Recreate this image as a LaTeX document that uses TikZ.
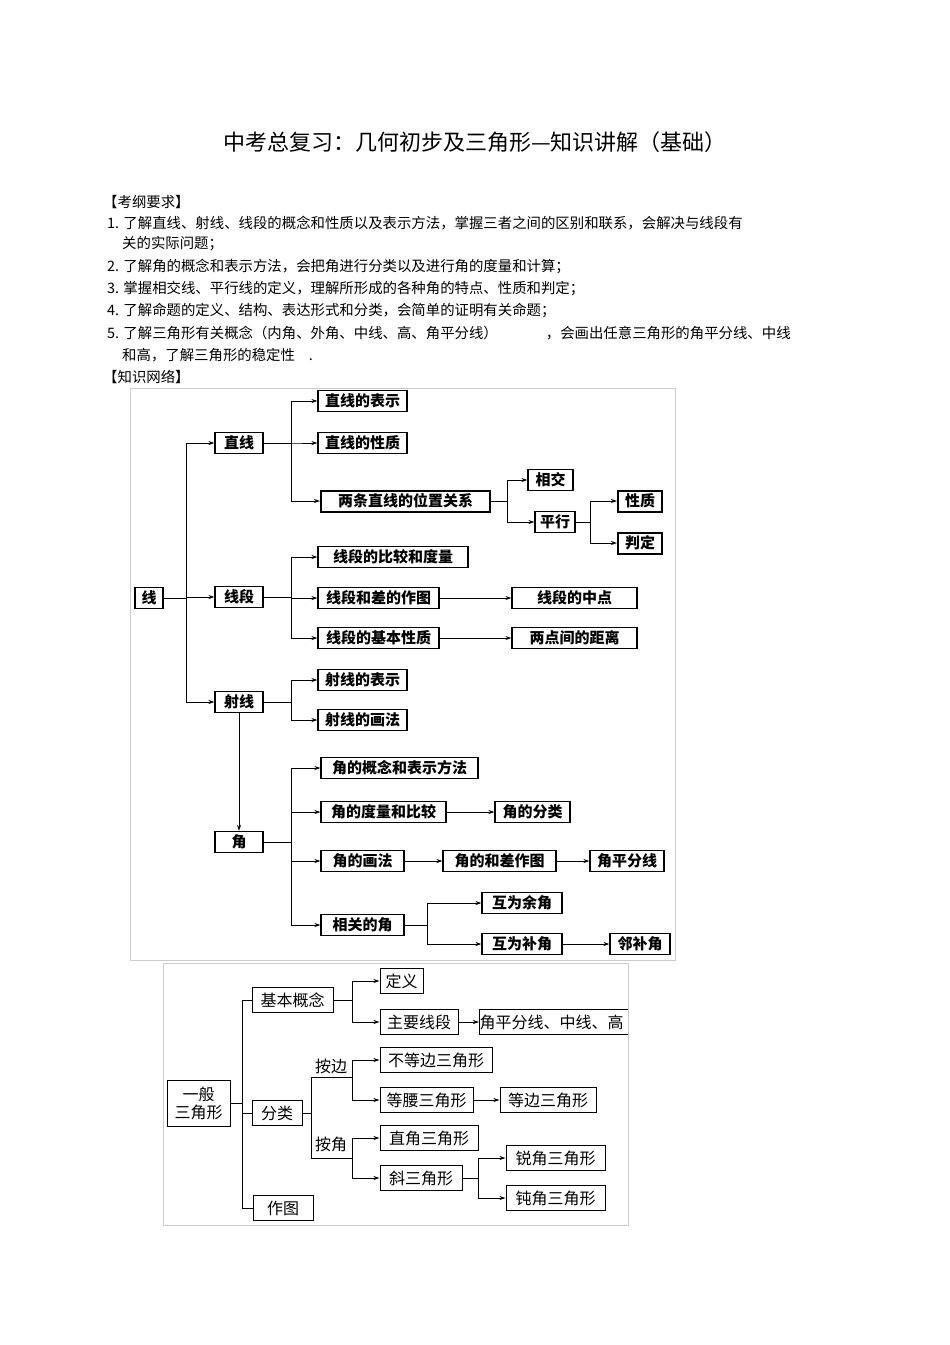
\documentclass[tikz,border=0pt]{standalone}
\usepackage{fontspec}
\setmainfont{Noto Sans CJK SC}
\usetikzlibrary{arrows.meta}
\begin{document}
\begin{tikzpicture}[x=1pt,y=-1pt,
 bx/.style={draw,line width=1.1pt,minimum height=21,inner sep=1pt,font=\fontsize{15}{16}\selectfont\bfseries},
 tb/.style={bx,line width=2pt},
 wb/.style={draw,line width=1pt,minimum height=25,inner sep=1pt,font=\fontsize{16}{18}\selectfont},
 ln/.style={line width=0.9pt},
 arr/.style={ln,-{Stealth[length=6pt,width=4pt]}},
 txt/.style={anchor=west,inner sep=0,font=\fontsize{14.4}{15}\selectfont}]
\useasboundingbox (0,0) rectangle (950,1345);
\node[font=\fontsize{22}{24}\selectfont] (title) at (475,142) {中考总复习：几何初步及三角形—知识讲解（基础）};
\node[txt] (t0) at (103,202) {【考纲要求】};
\node[txt] (t1) at (107,223) {1. 了解直线、射线、线段的概念和性质以及表示方法，掌握三者之间的区别和联系，会解决与线段有};
\node[txt] (t1b) at (122,244) {关的实际问题；};
\node[txt] (t2) at (107,266) {2. 了解角的概念和表示方法，会把角进行分类以及进行角的度量和计算；};
\node[txt] (t3) at (107,289) {3. 掌握相交线、平行线的定义，理解所形成的各种角的特点、性质和判定；};
\node[txt] (t4) at (107,311) {4. 了解命题的定义、结构、表达形式和分类，会简单的证明有关命题；};
\node[txt] (t5) at (107,333) {5. 了解三角形有关概念（内角、外角、中线、高、角平分线）\hspace{48pt}，会画出任意三角形的角平分线、中线};
\node[txt] (t5b) at (122,355) {和高，了解三角形的稳定性\hspace{14pt}.};
\node[txt] (t6) at (103,377) {【知识网络】};
% frames
\draw[gray!40,line width=1pt] (130,388) rectangle (675,960);
\draw[gray!40,line width=1pt] (163,963) rectangle (628,1225);
% diagram 1
\node[bx,minimum width=28] (xian) at (149,598) {线};
\node[bx,minimum width=48] (zx) at (239,443) {直线};
\node[bx,minimum width=48] (xd) at (239,597) {线段};
\node[bx,minimum width=48] (sx) at (239,702) {射线};
\node[bx,minimum width=48] (jiao) at (239,842) {角};
\node[bx,minimum width=89] (zx1) at (362.5,401) {直线的表示};
\node[bx,minimum width=89] (zx2) at (362.5,443) {直线的性质};
\node[tb,minimum width=169] (zx3) at (405.5,501) {两条直线的位置关系};
\node[bx,minimum width=45] (xj) at (550.5,480) {相交};
\node[bx,minimum width=40] (px) at (555,522) {平行};
\node[tb,minimum width=44] (xz) at (640,501) {性质};
\node[tb,minimum width=44] (pd) at (640,543) {判定};
\node[bx,minimum width=150] (xd1) at (393,557) {线段的比较和度量};
\node[bx,minimum width=121] (xd2) at (378.5,598) {线段和差的作图};
\node[bx,minimum width=121] (xd3) at (378.5,638) {线段的基本性质};
\node[bx,minimum width=125] (zd) at (574.5,598) {线段的中点};
\node[bx,minimum width=125] (jl) at (574.5,638) {两点间的距离};
\node[bx,minimum width=89] (sx1) at (362.5,680) {射线的表示};
\node[bx,minimum width=89] (sx2) at (362.5,720) {射线的画法};
\node[bx,minimum width=157] (j1) at (399.5,768) {角的概念和表示方法};
\node[bx,minimum width=125] (j2) at (383.5,812) {角的度量和比较};
\node[bx,minimum width=75] (jfl) at (532.5,812) {角的分类};
\node[bx,minimum width=83] (j3) at (362.5,861) {角的画法};
\node[bx,minimum width=113] (jhc) at (499.5,861) {角的和差作图};
\node[bx,minimum width=74] (jpf) at (627,861) {角平分线};
\node[bx,minimum width=83] (j4) at (362.5,925) {相关的角};
\node[bx,minimum width=80] (yj) at (522,903) {互为余角};
\node[bx,minimum width=80] (bj) at (522,944) {互为补角};
\node[bx,minimum width=60] (lbj) at (640,944) {邻补角};
\draw[ln] (xian.east) -- (186,598);
\draw[ln] (186,702) -- (186,443);
\draw[arr] (186,443) -- (zx.west);
\draw[arr] (186,597) -- (xd.west);
\draw[arr] (186,702) -- (sx.west);
\draw[arr] (sx.south) -- (jiao.north);
\foreach \t in {zx1,zx2,zx3} \draw[arr] (zx.east) -- (291,443) |- (\t.west);
\foreach \t in {xj,px} \draw[arr] (zx3.east) -- (507,501) |- (\t.west);
\foreach \t in {xz,pd} \draw[arr] (px.east) -- (590,522) |- (\t.west);
\foreach \t in {xd1,xd2,xd3} \draw[arr] (xd.east) -- (291,597) |- (\t.west);
\draw[arr] (xd2) -- (zd);
\draw[arr] (xd3) -- (jl);
\foreach \t in {sx1,sx2} \draw[arr] (sx.east) -- (291,702) |- (\t.west);
\foreach \t in {j1,j2,j3,j4} \draw[arr] (jiao.east) -- (291,842) |- (\t.west);
\draw[arr] (j2) -- (jfl);
\draw[arr] (j3) -- (jhc);
\draw[arr] (jhc) -- (jpf);
\foreach \t in {yj,bj} \draw[arr] (j4.east) -- (427,925) |- (\t.west);
\draw[arr] (bj) -- (lbj);
% diagram 2
\node[wb,minimum width=63,minimum height=46,align=center] (yb) at (198.5,1103) {一般\\三角形};
\node[wb,minimum width=81] (jb) at (292.5,1000) {基本概念};
\node[wb,minimum width=50] (fl) at (277,1113) {分类};
\node[wb,minimum width=60] (zt) at (283,1208) {作图};
\node[wb,minimum width=43] (dy) at (401.5,981) {定义};
\node[wb,minimum width=78] (zyxd) at (419,1022) {主要线段};
\begin{scope}
\clip (163,963) rectangle (628,1225);
\node[wb,anchor=west,inner xsep=0pt,minimum width=160,text width=160] (jpx) at (479,1022) {角平分线、中线、高};
\end{scope}
\node[wb,minimum width=112] (bdb) at (436,1060) {不等边三角形};
\node[wb,minimum width=93] (dy3) at (426.5,1100) {等腰三角形};
\node[wb,minimum width=96] (db3) at (548,1100) {等边三角形};
\node[wb,minimum width=98] (zj3) at (429,1138) {直角三角形};
\node[wb,minimum width=82] (x3) at (421,1178) {斜三角形};
\node[wb,minimum width=99] (rj3) at (555.5,1158) {锐角三角形};
\node[wb,minimum width=99] (dj3) at (555.5,1198) {钝角三角形};
\node[font=\fontsize{16}{18}\selectfont] (ab) at (331,1066) {按边};
\node[font=\fontsize{16}{18}\selectfont] (aj) at (331,1144) {按角};
\draw[ln] (yb.east) -- (242,1103);
\draw[ln] (242,1000) -- (242,1208);
\draw[ln] (242,1000) -- (jb.west);
\draw[ln] (242,1113) -- (fl.west);
\draw[ln] (242,1208) -- (zt.west);
\foreach \t in {dy,zyxd} \draw[arr] (jb.east) -- (352,1000) |- (\t.west);
\draw[arr] (zyxd.east) -- (jpx.west);
\draw[ln] (fl.east) -- (311,1113);
\draw[ln] (311,1077) -- (311,1158);
\draw[ln] (311,1077) -- (352,1077);
\draw[ln] (311,1158) -- (352,1158);
\foreach \t in {bdb,dy3} \draw[arr] (352,1077) |- (\t.west);
\foreach \t in {zj3,x3} \draw[arr] (352,1158) |- (\t.west);
\draw[arr] (dy3) -- (db3);
\foreach \t in {rj3,dj3} \draw[arr] (x3.east) -- (478,1178) |- (\t.west);
\end{tikzpicture}
\end{document}
